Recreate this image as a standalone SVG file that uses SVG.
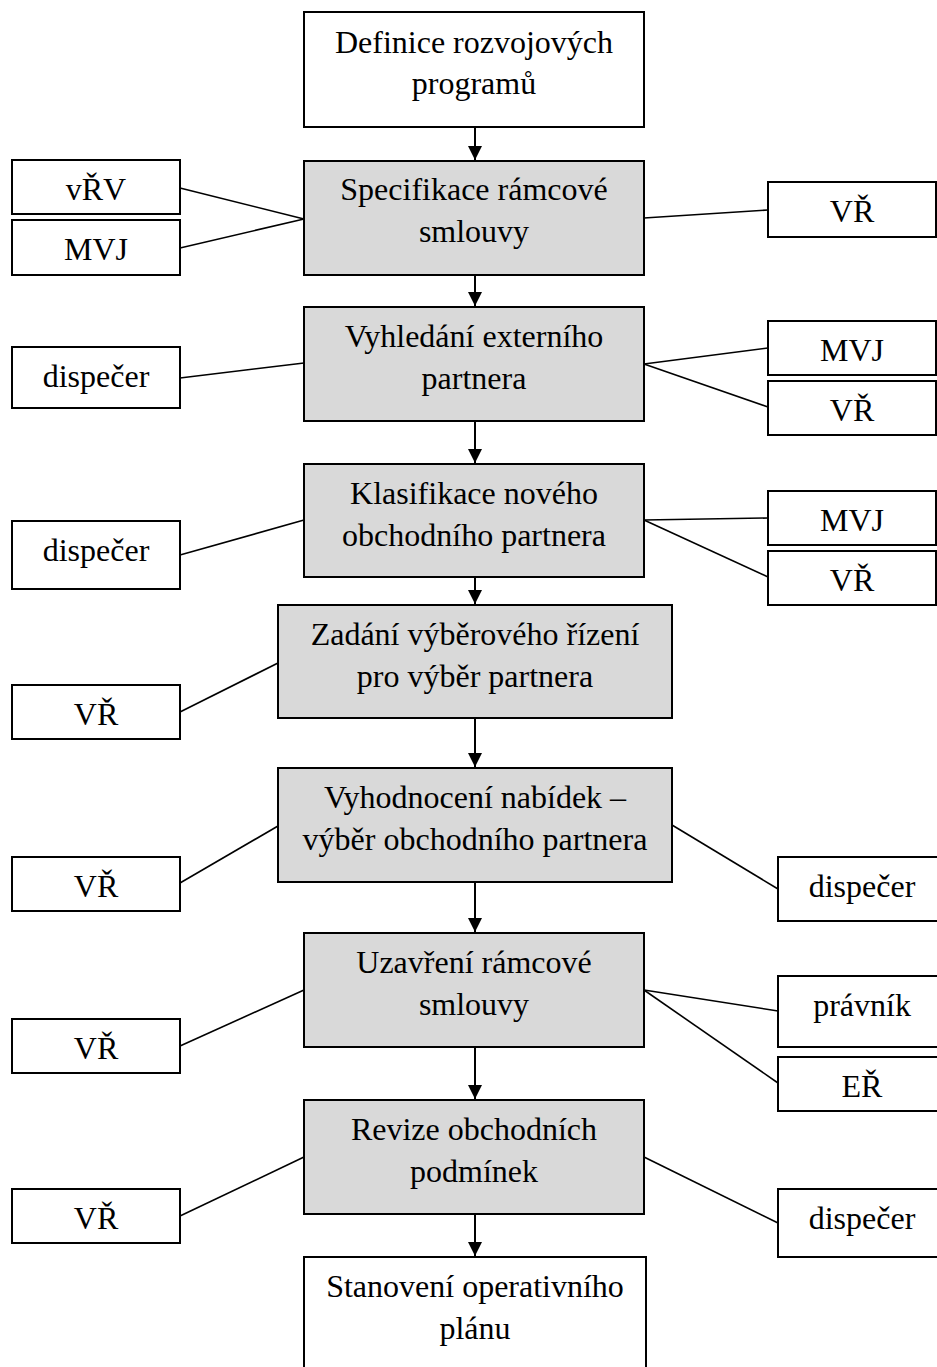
<svg xmlns="http://www.w3.org/2000/svg" width="937" height="1367" viewBox="0 0 937 1367">
  <style>
    .box { fill: #ffffff; stroke: #000000; stroke-width: 2; }
    .step { fill: #d9d9d9; stroke: #000000; stroke-width: 2; }
    .t { font-family: "Liberation Serif", "Times New Roman", serif; font-size: 32px; fill: #000000; text-anchor: middle; }
    .link { stroke: #000000; stroke-width: 1.6; fill: none; }
    .flow { stroke: #000000; stroke-width: 2; fill: none; marker-end: url(#arrow); }
  </style>
  <defs>
    <marker id="arrow" markerUnits="userSpaceOnUse" markerWidth="14" markerHeight="15" refX="14" refY="7" orient="auto" viewBox="0 0 14 14">
      <path d="M0,0 L14,7 L0,14 z" fill="#000000"/>
    </marker>
  </defs>

  <rect width="937" height="1367" fill="#ffffff"/>

  <!-- connectors -->
  <g id="connectors">
    <!-- main flow arrows -->
    <line class="flow" x1="475" y1="127" x2="475" y2="160"/>
    <line class="flow" x1="475" y1="275" x2="475" y2="306"/>
    <line class="flow" x1="475" y1="421" x2="475" y2="463"/>
    <line class="flow" x1="475" y1="577" x2="475" y2="604"/>
    <line class="flow" x1="475" y1="718" x2="475" y2="767"/>
    <line class="flow" x1="475" y1="882" x2="475" y2="932"/>
    <line class="flow" x1="475" y1="1047" x2="475" y2="1099"/>
    <line class="flow" x1="475" y1="1214" x2="475" y2="1256"/>
    <!-- role links -->
    <line class="link" x1="180" y1="188" x2="304" y2="219"/>
    <line class="link" x1="180" y1="248" x2="304" y2="219"/>
    <line class="link" x1="644" y1="218" x2="768" y2="210"/>
    <line class="link" x1="180" y1="378" x2="304" y2="363"/>
    <line class="link" x1="644" y1="364" x2="768" y2="348"/>
    <line class="link" x1="644" y1="364" x2="768" y2="407"/>
    <line class="link" x1="180" y1="555" x2="304" y2="520"/>
    <line class="link" x1="644" y1="520" x2="768" y2="518"/>
    <line class="link" x1="644" y1="520" x2="768" y2="577"/>
    <line class="link" x1="180" y1="712" x2="278" y2="663"/>
    <line class="link" x1="180" y1="883" x2="278" y2="826"/>
    <line class="link" x1="672" y1="825" x2="778" y2="889"/>
    <line class="link" x1="180" y1="1046" x2="304" y2="990"/>
    <line class="link" x1="644" y1="990" x2="778" y2="1011"/>
    <line class="link" x1="644" y1="990" x2="778" y2="1083"/>
    <line class="link" x1="180" y1="1216" x2="304" y2="1157"/>
    <line class="link" x1="644" y1="1157" x2="778" y2="1223"/>
  </g>

  <!-- process steps -->
  <g id="definice">
    <rect class="box" x="304" y="12" width="340" height="115"/>
    <text class="t" x="474" y="53">Definice rozvojových</text>
    <text class="t" x="474" y="94">programů</text>
  </g>
  <g id="specifikace">
    <rect class="step" x="304" y="161" width="340" height="114"/>
    <text class="t" x="474" y="200">Specifikace rámcové</text>
    <text class="t" x="474" y="242">smlouvy</text>
  </g>
  <g id="vyhledani">
    <rect class="step" x="304" y="307" width="340" height="114"/>
    <text class="t" x="474" y="347">Vyhledání externího</text>
    <text class="t" x="474" y="389">partnera</text>
  </g>
  <g id="klasifikace">
    <rect class="step" x="304" y="464" width="340" height="113"/>
    <text class="t" x="474" y="504">Klasifikace nového</text>
    <text class="t" x="474" y="546">obchodního partnera</text>
  </g>
  <g id="zadani">
    <rect class="step" x="278" y="605" width="394" height="113"/>
    <text class="t" x="475" y="645">Zadání výběrového řízení</text>
    <text class="t" x="475" y="687">pro výběr partnera</text>
  </g>
  <g id="vyhodnoceni">
    <rect class="step" x="278" y="768" width="394" height="114"/>
    <text class="t" x="475" y="808">Vyhodnocení nabídek –</text>
    <text class="t" x="475" y="850">výběr obchodního partnera</text>
  </g>
  <g id="uzavreni">
    <rect class="step" x="304" y="933" width="340" height="114"/>
    <text class="t" x="474" y="973">Uzavření rámcové</text>
    <text class="t" x="474" y="1015">smlouvy</text>
  </g>
  <g id="revize">
    <rect class="step" x="304" y="1100" width="340" height="114"/>
    <text class="t" x="474" y="1140">Revize obchodních</text>
    <text class="t" x="474" y="1182">podmínek</text>
  </g>
  <g id="stanoveni">
    <rect class="box" x="304" y="1257" width="342" height="120"/>
    <text class="t" x="475" y="1297">Stanovení operativního</text>
    <text class="t" x="475" y="1339">plánu</text>
  </g>

  <!-- roles, left side -->
  <g id="l-vrv"><rect class="box" x="12" y="160" width="168" height="54"/><text class="t" x="96" y="200">vŘV</text></g>
  <g id="l-mvj"><rect class="box" x="12" y="220" width="168" height="55"/><text class="t" x="96" y="260">MVJ</text></g>
  <g id="l-disp1"><rect class="box" x="12" y="347" width="168" height="61"/><text class="t" x="96" y="387">dispečer</text></g>
  <g id="l-disp2"><rect class="box" x="12" y="521" width="168" height="68"/><text class="t" x="96" y="561">dispečer</text></g>
  <g id="l-vr1"><rect class="box" x="12" y="685" width="168" height="54"/><text class="t" x="96" y="725">VŘ</text></g>
  <g id="l-vr2"><rect class="box" x="12" y="857" width="168" height="54"/><text class="t" x="96" y="897">VŘ</text></g>
  <g id="l-vr3"><rect class="box" x="12" y="1019" width="168" height="54"/><text class="t" x="96" y="1059">VŘ</text></g>
  <g id="l-vr4"><rect class="box" x="12" y="1189" width="168" height="54"/><text class="t" x="96" y="1229">VŘ</text></g>

  <!-- roles, right side -->
  <g id="r-vr1"><rect class="box" x="768" y="182" width="168" height="55"/><text class="t" x="852" y="222">VŘ</text></g>
  <g id="r-mvj1"><rect class="box" x="768" y="321" width="168" height="54"/><text class="t" x="852" y="361">MVJ</text></g>
  <g id="r-vr2"><rect class="box" x="768" y="381" width="168" height="54"/><text class="t" x="852" y="421">VŘ</text></g>
  <g id="r-mvj2"><rect class="box" x="768" y="491" width="168" height="54"/><text class="t" x="852" y="531">MVJ</text></g>
  <g id="r-vr3"><rect class="box" x="768" y="551" width="168" height="54"/><text class="t" x="852" y="591">VŘ</text></g>
  <g id="r-disp1"><rect class="box" x="778" y="857" width="168" height="64"/><text class="t" x="862" y="897">dispečer</text></g>
  <g id="r-pravnik"><rect class="box" x="778" y="976" width="168" height="71"/><text class="t" x="862" y="1016">právník</text></g>
  <g id="r-er"><rect class="box" x="778" y="1057" width="168" height="54"/><text class="t" x="862" y="1097">EŘ</text></g>
  <g id="r-disp2"><rect class="box" x="778" y="1189" width="168" height="68"/><text class="t" x="862" y="1229">dispečer</text></g>
</svg>
